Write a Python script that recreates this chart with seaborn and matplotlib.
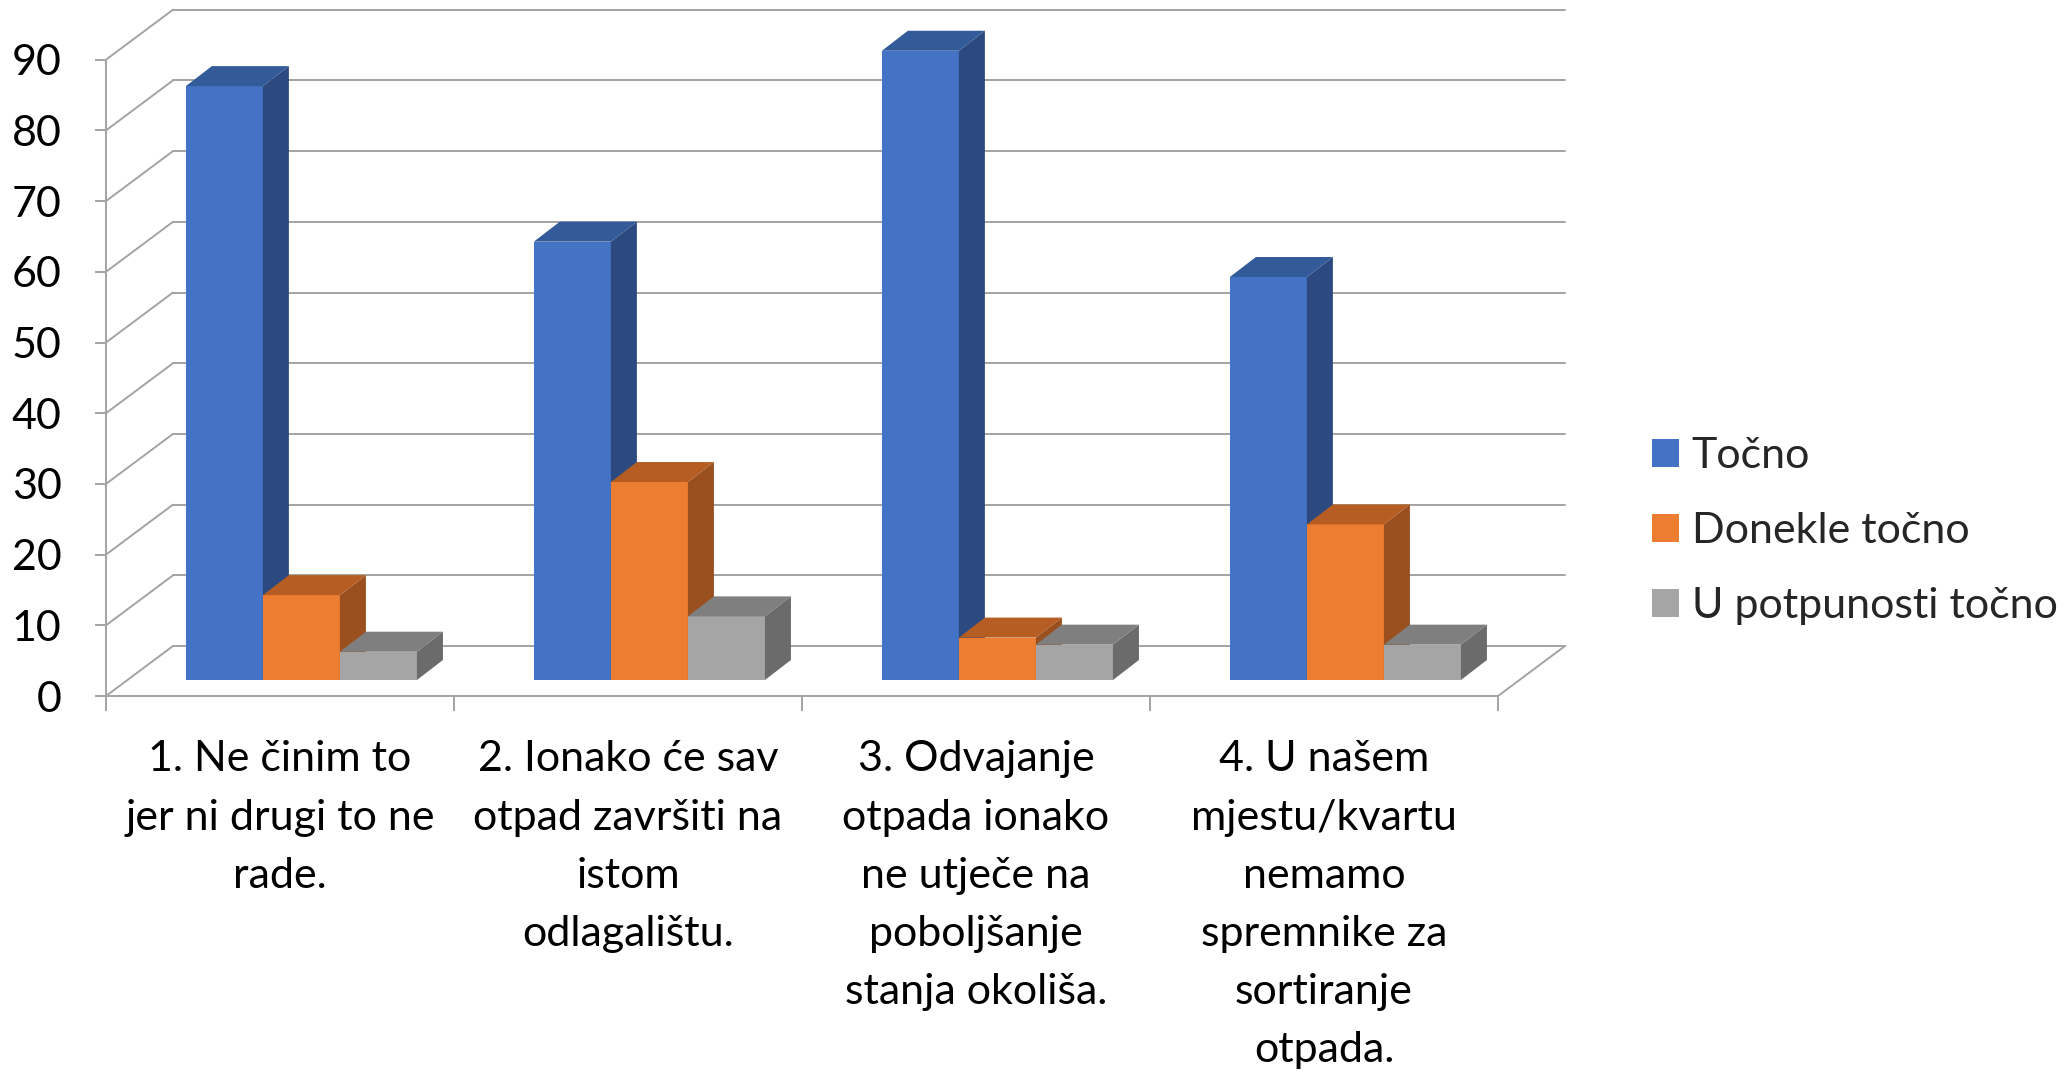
# recreate excel-style 3d clustered column chart with seaborn

import pandas as pd
import numpy as np
import seaborn as sns
import matplotlib.pyplot as plt
import matplotlib.transforms as mtransforms
from matplotlib.patches import Polygon, Patch


# ---------------------------------------------------------------------------------- #
# data

categories = [
    "1. Ne činim to\njer ni drugi to ne\nrade.",
    "2. Ionako će sav\notpad završiti na\nistom\nodlagalištu.",
    "3. Odvajanje\notpada ionako\nne utječe na\npoboljšanje\nstanja okoliša.",
    "4. U našem\nmjestu/kvartu\nnemamo\nspremnike za\nsortiranje\notpada.",
]
series = ["Točno", "Donekle točno", "U potpunosti točno"]
tocno = [84, 62, 89, 57]
donekle = [12, 28, 6, 22]
potpuno = [4, 9, 5, 5]
y_ticks = list(range(0, 91, 10))

front_colors = ["#4472C4", "#ED7D31", "#A5A5A5"]
side_colors = ["#2C4A7F", "#9A4F1F", "#6B6B6B"]
top_colors = ["#335A99", "#B55D22", "#7F7F7F"]
grid_col = "#A3A3A3"

df = pd.DataFrame({
    "cat": np.repeat(categories, 3),
    "series": series * 4,
    "val": [v for trio in zip(tocno, donekle, potpuno) for v in trio],
})

# ---------------------------------------------------------------------------------- #
# figure setup (pixel based so the fake 3d offsets line up)

sns.set_theme(style="white")
plt.rcParams["font.family"] = ["Lato", "DejaVu Sans"]

W, H = 2071, 1074
fig = plt.figure(figsize=(W / 100, H / 100), dpi=100)

px_x = 348.0      # pixels per category
px_y = 7.07       # pixels per value unit
x0_px, y0_px = 106, 696   # front floor corner (from top)
xlim = (-0.5, 3.75)
ylim = (0, 97.5)
ax_w = (xlim[1] - xlim[0]) * px_x
ax_h = (ylim[1] - ylim[0]) * px_y
ax = fig.add_axes([x0_px / W, (H - y0_px) / H, ax_w / W, ax_h / H])
ax.patch.set_alpha(0)

kx, ky = 1 / px_x, 1 / px_y
bx, by = 21.4 * kx, 16 * ky      # bar plane offset
dx, dy = 26 * kx, 20 * ky        # bar depth
Bx, By = 67 * kx, 50 * ky        # back wall offset

sns.barplot(data=df, x="cat", y="val", hue="series", hue_order=series,
            palette=front_colors, saturation=1, width=0.664, gap=0,
            linewidth=0, legend=False, ax=ax)

ax.set_xlim(*xlim)
ax.set_ylim(*ylim)

# ---------------------------------------------------------------------------------- #
# walls / grid

for v in y_ticks:
    ax.plot([-0.5 + Bx, 3.5 + Bx], [v + By, v + By], color=grid_col, lw=1.4, zorder=0.5)
    ax.plot([-0.5, -0.5 + Bx], [v, v + By], color=grid_col, lw=1.4, zorder=0.5)
ax.plot([3.5, 3.5 + Bx], [0, By], color=grid_col, lw=1.4, zorder=0.5)

# ---------------------------------------------------------------------------------- #
# fake 3d faces on the bars

bars = sorted([p for p in ax.patches], key=lambda p: p.get_x())
shift = mtransforms.Affine2D().translate(bx, by) + ax.transData
for i, p in enumerate(bars):
    k = i % 3
    x, w, h = p.get_x(), p.get_width(), p.get_height()
    z = 2 + i * 0.01
    p.set_transform(shift)
    p.set_zorder(z)
    xr = x + w + bx
    side = [(xr, by), (xr, h + by), (xr + dx, h + by + dy), (xr + dx, by + dy)]
    top = [(x + bx, h + by), (xr, h + by), (xr + dx, h + by + dy), (x + bx + dx, h + by + dy)]
    ax.add_patch(Polygon(side, closed=True, facecolor=side_colors[k], edgecolor="none", zorder=z + 0.001))
    ax.add_patch(Polygon(top, closed=True, facecolor=top_colors[k], edgecolor="none", zorder=z + 0.002))

# ---------------------------------------------------------------------------------- #
# axes, ticks, labels

fs = 31

sns.despine(ax=ax, top=True, right=True)
for s in ["left", "bottom"]:
    ax.spines[s].set_color(grid_col)
    ax.spines[s].set_linewidth(1.4)
ax.spines["left"].set_bounds(0, 90)
ax.spines["bottom"].set_bounds(-0.5, 3.5)

ax.set_yticks(y_ticks)
ax.set_yticklabels([str(v) for v in y_ticks])
ax.tick_params(axis="y", left=True, length=8, width=1.4, color=grid_col,
               pad=24, labelsize=fs, labelcolor="black")

ax.set_xticks(range(4))
ax.set_xticklabels(categories, linespacing=1.65)
ax.set_xticks([-0.5, 0.5, 1.5, 2.5, 3.5], minor=True)
ax.tick_params(axis="x", which="major", length=0, pad=32, labelsize=fs, labelcolor="black")
ax.tick_params(axis="x", which="minor", bottom=True, length=11, width=1.4, color=grid_col)
ax.set_xlabel("")
ax.set_ylabel("")

# legend
handles = [Patch(facecolor=c, edgecolor="none") for c in front_colors]
fig.legend(handles, series, loc="center left", bbox_to_anchor=(1652 / W, 1 - 531 / H),
           frameon=False, fontsize=fs, handlelength=0.62, handleheight=0.62,
           handletextpad=0.3, labelspacing=0.86, borderpad=0, borderaxespad=0)

fig.savefig("out.png", dpi=100)
